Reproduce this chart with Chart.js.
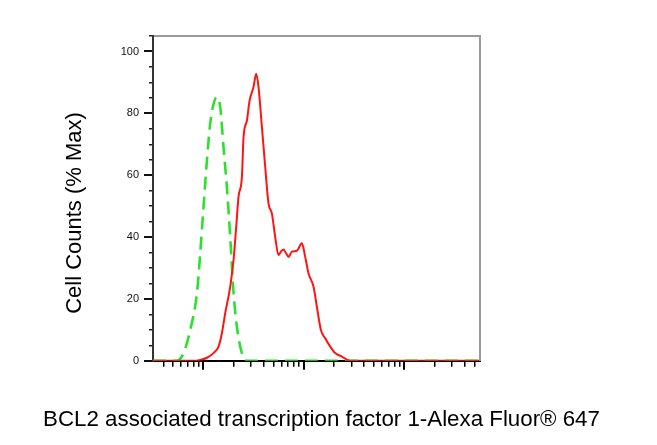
<!DOCTYPE html>
<html>
<head>
<meta charset="utf-8">
<script src="https://cdn.jsdelivr.net/npm/chart.js@4"></script>
<style>
  html, body { margin: 0; padding: 0; background: #fff; }
  #wrap { width: 657px; height: 445px; position: relative; }
</style>
</head>
<body>
<div id="wrap"><canvas id="c"></canvas></div>
<script>
// Fluorescence intensity (log axis) and % max counts
const redX = [31.6, 80.1, 93.3, 108.8, 126.6, 142.0, 153.5, 165.5, 185.6, 200.3, 212.9, 224.5, 242.7, 251.8, 272.2, 288.8, 316.6, 336.9, 355.1, 383.7, 414.0, 446.3, 482.6, 520.6, 561.2, 593.3, 629.5, 669.9, 706.1, 763.0, 855.7, 959.5, 1035, 1116, 1252, 1352, 1483, 1637, 1835, 2057, 2399, 2901, 56234];
const redY = [0, 0, 0.3, 1, 2.5, 4.6, 9, 15.4, 24, 32.6, 43.3, 53, 59.5, 72.3, 77.7, 84, 88.5, 92.8, 88.5, 75.6, 62.7, 50.9, 47.6, 40, 34.2, 35.3, 36, 34.7, 33.6, 35.3, 35.6, 38, 33.6, 28.3, 24, 17.5, 10, 7.3, 4.6, 2.5, 1.4, 0, 0];
const greenX = [31.6, 54.7, 63.7, 74.2, 86.5, 93.3, 100.7, 108.8, 117.4, 126.6, 136.9, 147.7, 159.2, 172.1, 185.6, 200.3, 216.4, 242.7, 272.2, 56234];
const greenY = [0, 0, 2.5, 10, 21.8, 34.7, 49.8, 64.8, 76.7, 83, 85.3, 82, 69, 56, 40, 22, 11, 2.5, 0, 0];

const xMajorTicks = [100, 1000, 10000];
const xMinorTicks = [40, 50, 60, 70, 80, 90, 200, 300, 400, 500, 600, 700, 800, 900, 2000, 3000, 4000, 5000, 6000, 7000, 8000, 9000, 20000, 30000, 40000, 50000];
const yMajorTicks = [0, 20, 40, 60, 80, 100];
const yMinorTicks = [5, 10, 15, 25, 30, 35, 45, 50, 55, 65, 70, 75, 85, 90, 95, 105];

const xMin = 31.62, xMax = 56234, yMin = 0, yMax = 105;
const xTitle = 'BCL2 associated transcription factor 1-Alexa Fluor® 647';
const yTitle = 'Cell Counts (% Max)';

const FONT = '"Liberation Sans", Arial, Helvetica, sans-serif';

function pts(xs, ys) { return xs.map((x, i) => ({ x: x, y: ys[i] })); }
function setTicks(values) { return function (scale) { scale.ticks = values.map(v => ({ value: v })); }; }
function fixW(w) { return function (scale) { scale.width = w; }; }
function fixH(h) { return function (scale) { scale.height = h; }; }

new Chart(document.getElementById('c'), {
  type: 'line',
  data: {
    datasets: [
      {
        label: 'Isotype',
        data: pts(greenX, greenY),
        borderColor: '#2ee02e',
        borderWidth: 2.6,
        borderDash: [13, 7],
        pointRadius: 0,
        fill: false,
        cubicInterpolationMode: 'monotone',
        order: 1,
        xAxisID: 'x', yAxisID: 'y'
      },
      {
        label: 'BCL2',
        data: pts(redX, redY),
        borderColor: '#ff1414',
        borderWidth: 2,
        pointRadius: 0,
        fill: false,
        cubicInterpolationMode: 'monotone',
        order: 0,
        xAxisID: 'x', yAxisID: 'y'
      }
    ]
  },
  options: {
    responsive: true,
    maintainAspectRatio: false,
    animation: false,
    events: [],
    layout: { padding: { left: 0, right: 14, top: 0, bottom: 19 } },
    plugins: {
      legend: { display: false },
      tooltip: { enabled: false },
      title: {
        display: true,
        position: 'left',
        text: yTitle,
        color: '#000',
        font: { family: FONT, size: 22, weight: 'normal', lineHeight: 0.5 },
        padding: { top: 69, bottom: 33 }
      },
      subtitle: {
        display: true,
        position: 'bottom',
        text: xTitle,
        color: '#000',
        font: { family: FONT, size: 22.3, weight: 'normal', lineHeight: 0.5 },
        padding: { top: 53.5, bottom: 0.5 }
      }
    },
    scales: {
      x: {
        type: 'logarithmic',
        position: 'bottom',
        min: xMin, max: xMax,
        afterBuildTicks: setTicks(xMajorTicks),
        afterFit: fixH(0),
        ticks: { display: false },
        grid: { drawOnChartArea: false, drawTicks: true, tickLength: 9, tickWidth: 2, lineWidth: 2, tickColor: '#000' },
        border: { display: true, color: '#000', width: 2 }
      },
      xMinor: {
        type: 'logarithmic',
        position: 'bottom',
        min: xMin, max: xMax,
        afterBuildTicks: setTicks(xMinorTicks),
        afterFit: fixH(0),
        ticks: { display: false },
        grid: { drawOnChartArea: false, drawTicks: true, tickLength: 6, tickWidth: 1.5, lineWidth: 1.5, tickColor: '#000' },
        border: { display: false }
      },
      xTop: {
        type: 'linear',
        position: 'top',
        min: 0, max: 1,
        afterFit: fixH(36),
        ticks: { display: false },
        grid: { drawOnChartArea: false, drawTicks: false },
        border: { display: true, color: '#9a9a9a', width: 2 }
      },
      y: {
        type: 'linear',
        position: 'left',
        weight: 1,
        min: yMin, max: yMax,
        afterBuildTicks: setTicks(yMajorTicks),
        afterFit: fixW(40),
        ticks: { display: true, autoSkip: false, padding: 5, color: '#111', font: { family: FONT, size: 11 } },
        grid: { drawOnChartArea: false, drawTicks: true, tickLength: 9, tickWidth: 2, lineWidth: 2, tickColor: '#111' },
        border: { display: true, color: '#333', width: 2 }
      },
      yMinor: {
        type: 'linear',
        position: 'left',
        weight: 0,
        min: yMin, max: yMax,
        afterBuildTicks: setTicks(yMinorTicks),
        afterFit: fixW(0),
        ticks: { display: false },
        grid: { drawOnChartArea: false, drawTicks: true, tickLength: 4, tickWidth: 1.5, lineWidth: 1.5, tickColor: '#222' },
        border: { display: false }
      },
      yRight: {
        type: 'linear',
        position: 'right',
        min: 0, max: 1,
        afterFit: fixW(163.5),
        ticks: { display: false },
        grid: { drawOnChartArea: false, drawTicks: false },
        border: { display: true, color: '#9a9a9a', width: 2 }
      }
    }
  }
});
</script>
</body>
</html>
